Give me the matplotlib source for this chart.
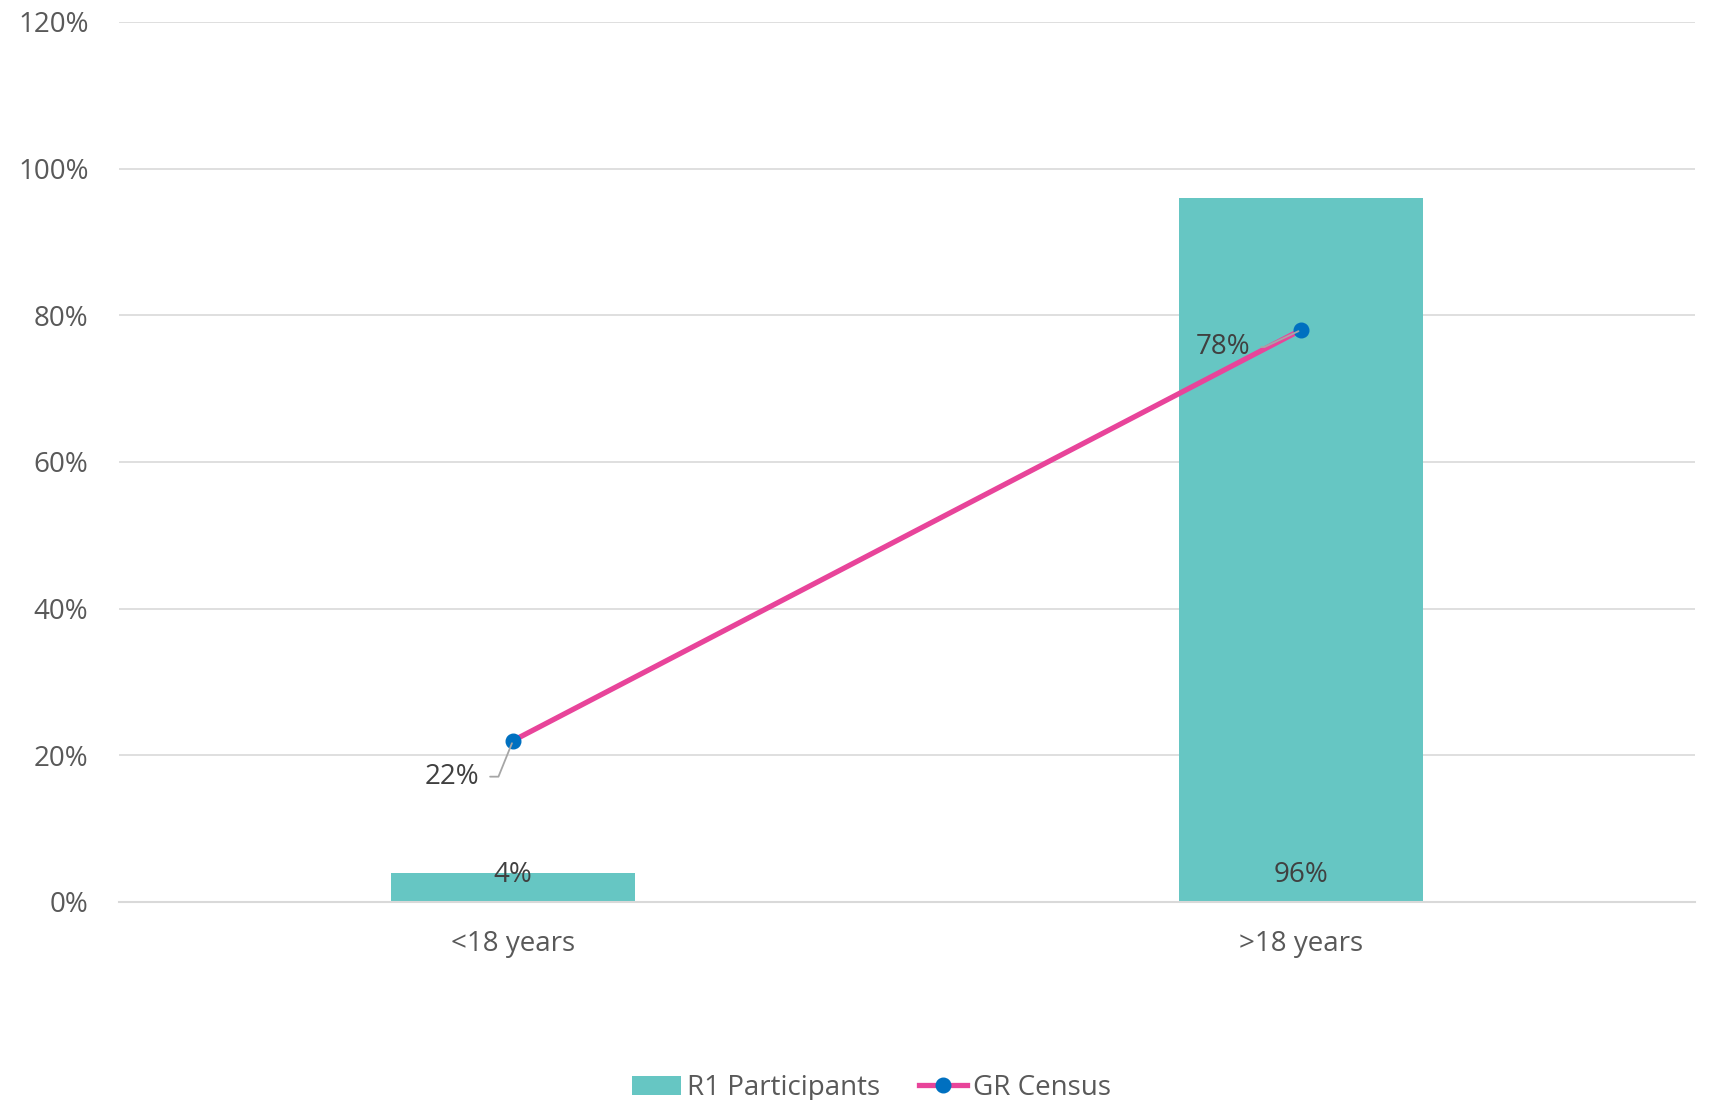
import matplotlib.pyplot as plt
from matplotlib.ticker import FuncFormatter
import numpy as np

categories = ['<18 years', '>18 years']
r1_participants = [4, 96]
gr_census = [22, 78]
y_ticks = [0, 20, 40, 60, 80, 100, 120]

plt.rcParams['font.family'] = ['Open Sans', 'DejaVu Sans']

teal = '#66C6C3'
pink = '#E8449A'
blue = '#0070C0'
tick_grey = '#595959'
label_grey = '#404040'
fs = 20

fig = plt.figure(figsize=(17.09, 11.0), dpi=100)
ax = fig.add_axes([119 / 1709, 1 - 902 / 1100, (1695 - 119) / 1709, (902 - 22) / 1100])

x = np.arange(len(categories))
bars = ax.bar(x, r1_participants, width=0.31, color=teal, label='R1 Participants', zorder=2)
line, = ax.plot(x, gr_census, color=pink, lw=3.8, marker='o', ms=10.5,
                markerfacecolor=blue, markeredgecolor=blue, label='GR Census', zorder=3)

# bar labels sit at the inside base of each bar
for xi, v in zip(x, r1_participants):
    ax.text(xi, 3.7, f'{v}%', ha='center', va='center', fontsize=fs, color=label_grey, zorder=4)

# line labels with leader lines, offsets in pixels
offsets = [(-34, -36, 68), (-51, -17, 25)]
for xi, v, (dx, dy, ang) in zip(x, gr_census, offsets):
    ax.annotate(f'{v}%', xy=(xi, v), xytext=(dx, dy), textcoords='offset pixels',
                ha='right', va='center', fontsize=fs, color=label_grey, zorder=4,
                arrowprops=dict(arrowstyle='-', color='#A6A6A6', lw=1.3,
                                connectionstyle=f'angle,angleA=0,angleB={ang},rad=0',
                                relpos=(1, 0.5), shrinkA=6, shrinkB=2))

ax.set_xlim(-0.5, 1.5)
ax.set_ylim(0, 120)
ax.set_yticks(y_ticks)
ax.yaxis.set_major_formatter(FuncFormatter(lambda v, p: f'{v:.0f}%'))
ax.set_xticks(x)
ax.set_xticklabels(categories)
ax.tick_params(axis='both', length=0, labelsize=fs, colors=tick_grey)
ax.tick_params(axis='y', pad=22)
ax.tick_params(axis='x', pad=20)
ax.grid(axis='y', color='#D9D9D9', lw=1.2, zorder=0)
ax.set_axisbelow(True)
for side in ['top', 'right', 'left']:
    ax.spines[side].set_visible(False)
ax.spines['bottom'].set_color('#D9D9D9')
ax.spines['bottom'].set_linewidth(1.5)

fig.legend(handles=[bars, line], loc='center', bbox_to_anchor=(0.51, 1 - 1088 / 1100), ncol=2,
           frameon=False, fontsize=fs, labelcolor=tick_grey, handlelength=1.75,
           handleheight=0.65, handletextpad=0.2, columnspacing=1.4)

fig.savefig('out.png', dpi=100)
